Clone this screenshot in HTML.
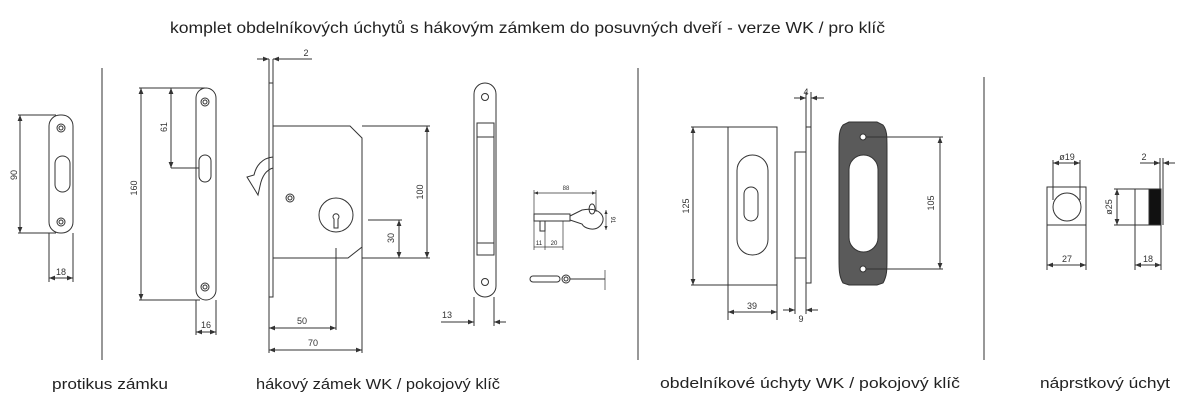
<!DOCTYPE html>
<html><head><meta charset="utf-8"><style>
html,body{margin:0;padding:0;background:#fff;}
svg{display:block}
text{font-family:"Liberation Sans",sans-serif;fill:#222}
.d{font-size:9px;fill:#333}
</style></head><body>
<svg width="1200" height="418" viewBox="0 0 1200 418" xmlns="http://www.w3.org/2000/svg">
<defs>
<marker id="a" viewBox="0 0 10 10" refX="10" refY="5" markerWidth="6" markerHeight="6" orient="auto-start-reverse"><path d="M0,1 L10,5 L0,9 z" fill="#333"/></marker>
</defs>
<text x="170" y="33" font-size="16" textLength="715" lengthAdjust="spacingAndGlyphs">komplet obdelníkových úchytů s hákovým zámkem do posuvných dveří - verze WK / pro klíč</text>

<g stroke="#777" stroke-width="1.5">
<line x1="102" y1="68" x2="102" y2="360"/>
<line x1="638" y1="68" x2="638" y2="360"/>
<line x1="984" y1="77" x2="984" y2="360"/>
</g>

<g fill="none" stroke="#333" stroke-width="1">
<!-- strike plate -->
<rect x="49" y="115" width="24" height="118" rx="11"/>
<circle cx="61" cy="128" r="4"/><circle cx="61" cy="128" r="2"/>
<circle cx="61" cy="222" r="4"/><circle cx="61" cy="222" r="2"/>
<rect x="55" y="156" width="15" height="36" rx="7.5"/>
<line x1="18" y1="115" x2="56" y2="115"/><line x1="18" y1="233" x2="56" y2="233"/>
<line x1="20" y1="115" x2="20" y2="233" marker-start="url(#a)" marker-end="url(#a)"/>
<line x1="49" y1="233" x2="49" y2="282"/><line x1="73" y1="233" x2="73" y2="282"/>
<line x1="49" y1="278" x2="73" y2="278" marker-start="url(#a)" marker-end="url(#a)"/>

<!-- faceplate -->
<rect x="196" y="88" width="20" height="212" rx="10"/>
<circle cx="205" cy="102" r="4"/><circle cx="205" cy="102" r="2"/>
<circle cx="205" cy="287" r="4"/><circle cx="205" cy="287" r="2"/>
<rect x="199" y="155" width="12" height="27" rx="6"/>
<line x1="139" y1="88" x2="205" y2="88"/><line x1="139" y1="300" x2="200" y2="300"/>
<line x1="141" y1="88" x2="141" y2="300" marker-start="url(#a)" marker-end="url(#a)"/>
<line x1="171" y1="88" x2="171" y2="168" marker-start="url(#a)" marker-end="url(#a)"/>
<line x1="171" y1="168" x2="199" y2="168"/>
<line x1="196" y1="300" x2="196" y2="335"/><line x1="216" y1="300" x2="216" y2="335"/>
<line x1="196" y1="332" x2="216" y2="332" marker-start="url(#a)" marker-end="url(#a)"/>

<!-- lock -->
<rect x="269" y="83" width="4" height="214"/>
<line x1="269" y1="59" x2="269" y2="83"/><line x1="273" y1="59" x2="273" y2="83"/>
<line x1="257" y1="59" x2="269" y2="59" marker-end="url(#a)"/>
<line x1="312" y1="59" x2="273" y2="59" marker-end="url(#a)"/>
<path d="M273,126 L350,126 L362,138 L362,247 L348,258 L273,258"/>
<path d="M273,157 C262,158 256,166 254,175 L247,177 L258,195 L260,186 C262,176 266,170 273,168"/>
<circle cx="290" cy="198" r="4"/><circle cx="290" cy="198" r="2"/>
<circle cx="336" cy="215" r="17"/>
<path d="M334,219 a3,3 0 1,1 4,0 L338,228 L334,228 z"/>
<line x1="362" y1="126" x2="430" y2="126"/><line x1="362" y1="258" x2="430" y2="258"/>
<line x1="427" y1="126" x2="427" y2="258" marker-start="url(#a)" marker-end="url(#a)"/>
<line x1="368" y1="220" x2="402" y2="220"/>
<line x1="399" y1="220" x2="399" y2="258" marker-start="url(#a)" marker-end="url(#a)"/>
<line x1="336" y1="248" x2="336" y2="330"/>
<line x1="269" y1="297" x2="269" y2="353"/><line x1="362" y1="247" x2="362" y2="353"/>
<line x1="269" y1="328" x2="336" y2="328" marker-start="url(#a)" marker-end="url(#a)"/>
<line x1="269" y1="350" x2="362" y2="350" marker-start="url(#a)" marker-end="url(#a)"/>

<!-- striking faceplate side -->
<rect x="474" y="83" width="22" height="214" rx="11"/>
<circle cx="485" cy="97" r="3.5"/><circle cx="485" cy="282" r="3.5"/>
<rect x="477" y="123" width="17" height="132"/>
<line x1="477" y1="137" x2="494" y2="137"/><line x1="477" y1="243" x2="494" y2="243"/>
<line x1="474" y1="297" x2="474" y2="326"/><line x1="494" y1="297" x2="494" y2="326"/>
<line x1="441" y1="322" x2="474" y2="322" marker-end="url(#a)"/>
<line x1="506" y1="322" x2="494" y2="322" marker-end="url(#a)"/>

<!-- key -->
<line x1="534" y1="190" x2="534" y2="250" stroke-width=".7"/>
<line x1="596" y1="190" x2="596" y2="212" stroke-width=".7"/>
<line x1="534" y1="193" x2="596" y2="193" stroke-width=".7" marker-start="url(#a)" marker-end="url(#a)"/>
<rect x="534" y="214" width="36" height="7"/>
<rect x="540" y="221" width="5" height="10"/>
<path d="M570,216 L582,210 C600,206 608,218 600,226 C594,232 584,228 582,224 L570,220 z"/>
<path d="M592,214 a3,5 0 1,1 0.1,0"/>
<line x1="545" y1="221" x2="545" y2="250" stroke-width=".7"/><line x1="563" y1="221" x2="563" y2="250" stroke-width=".7"/>
<line x1="534" y1="247" x2="545" y2="247" stroke-width=".7"/><line x1="545" y1="247" x2="563" y2="247" stroke-width=".7"/>
<line x1="606" y1="210" x2="606" y2="230" stroke-width=".7" marker-start="url(#a)" marker-end="url(#a)"/>
<rect x="530" y="276" width="30" height="6" rx="3"/>
<circle cx="566" cy="279" r="4"/><circle cx="566" cy="279" r="2"/>
<line x1="570" y1="279" x2="605" y2="279"/>
<line x1="605" y1="270" x2="605" y2="290" stroke-width=".7"/>

<!-- rectangular handle -->
<rect x="728" y="127" width="49" height="158"/>
<rect x="737" y="155" width="31" height="100" rx="15.5"/>
<rect x="744" y="187" width="14" height="34" rx="7"/>
<line x1="691" y1="127" x2="728" y2="127"/><line x1="691" y1="285" x2="728" y2="285"/>
<line x1="693" y1="127" x2="693" y2="285" marker-start="url(#a)" marker-end="url(#a)"/>
<line x1="728" y1="285" x2="728" y2="320"/><line x1="777" y1="285" x2="777" y2="320"/>
<line x1="728" y1="312" x2="777" y2="312" marker-start="url(#a)" marker-end="url(#a)"/>
<rect x="806" y="127" width="5" height="156"/>
<rect x="795" y="152" width="11" height="106"/>
<line x1="806" y1="92" x2="806" y2="127"/><line x1="811" y1="92" x2="811" y2="127"/>
<line x1="794" y1="98" x2="806" y2="98" marker-end="url(#a)"/>
<line x1="824" y1="98" x2="811" y2="98" marker-end="url(#a)"/>
<line x1="795" y1="258" x2="795" y2="314"/><line x1="806" y1="283" x2="806" y2="314"/>
<line x1="783" y1="310" x2="795" y2="310" marker-end="url(#a)"/>
<line x1="818" y1="310" x2="806" y2="310" marker-end="url(#a)"/>
<path d="M843,125 L849,122 L877,122 L883,125 C887,130 887,135 887,150 L887,258 C887,270 887,276 883,283 L877,285 L849,285 L843,283 C839,276 839,270 839,258 L839,150 C839,135 839,130 843,125 z" fill="#5a5a5a"/>
<rect x="849" y="155" width="29" height="97" rx="14.5" fill="#fff"/>
<circle cx="863" cy="137" r="3" fill="#fff"/><circle cx="863" cy="269" r="3" fill="#fff"/>
<line x1="866" y1="137" x2="943" y2="137"/><line x1="866" y1="269" x2="943" y2="269"/>
<line x1="940" y1="137" x2="940" y2="269" marker-start="url(#a)" marker-end="url(#a)"/>

<!-- thimble -->
<rect x="1047" y="187" width="39" height="38"/>
<circle cx="1067" cy="207" r="14"/>
<line x1="1053" y1="160" x2="1053" y2="200"/><line x1="1080" y1="160" x2="1080" y2="200"/>
<line x1="1053" y1="163" x2="1080" y2="163" marker-start="url(#a)" marker-end="url(#a)"/>
<line x1="1047" y1="225" x2="1047" y2="270"/><line x1="1086" y1="225" x2="1086" y2="270"/>
<line x1="1047" y1="265" x2="1086" y2="265" marker-start="url(#a)" marker-end="url(#a)"/>
<rect x="1135" y="189" width="26" height="36"/>
<rect x="1149" y="189" width="12" height="36" fill="#111"/>
<line x1="1160" y1="158" x2="1160" y2="189"/><line x1="1163" y1="158" x2="1163" y2="225"/>
<line x1="1140" y1="163" x2="1160" y2="163" marker-end="url(#a)"/>
<line x1="1175" y1="163" x2="1163" y2="163" marker-end="url(#a)"/>
<line x1="1114" y1="189" x2="1135" y2="189"/><line x1="1114" y1="225" x2="1135" y2="225"/>
<line x1="1117" y1="189" x2="1117" y2="225" marker-start="url(#a)" marker-end="url(#a)"/>
<line x1="1135" y1="225" x2="1135" y2="270"/><line x1="1161" y1="225" x2="1161" y2="270"/>
<line x1="1135" y1="265" x2="1161" y2="265" marker-start="url(#a)" marker-end="url(#a)"/>
</g>

<!-- dimension labels -->
<g class="d">
<text x="17" y="175" transform="rotate(-90 17 175)" text-anchor="middle" class="d">90</text>
<text x="61" y="275" text-anchor="middle" class="d">18</text>
<text x="137" y="188" transform="rotate(-90 137 188)" text-anchor="middle" class="d">160</text>
<text x="167" y="127" transform="rotate(-90 167 127)" text-anchor="middle" class="d">61</text>
<text x="206" y="328" text-anchor="middle" class="d">16</text>
<text x="306" y="56" text-anchor="middle" class="d">2</text>
<text x="423" y="192" transform="rotate(-90 423 192)" text-anchor="middle" class="d">100</text>
<text x="394" y="238" transform="rotate(-90 394 238)" text-anchor="middle" class="d">30</text>
<text x="302" y="324" text-anchor="middle" class="d">50</text>
<text x="313" y="346" text-anchor="middle" class="d">70</text>
<text x="447" y="318" text-anchor="middle" class="d">13</text>
<text x="566" y="190" text-anchor="middle" font-size="6" class="d" style="font-size:6px">88</text>
<text x="539" y="245" text-anchor="middle" style="font-size:6px">11</text>
<text x="554" y="245" text-anchor="middle" style="font-size:6px">20</text>
<text x="611" y="220" transform="rotate(90 611 220)" text-anchor="middle" style="font-size:6px">91</text>
<text x="689" y="206" transform="rotate(-90 689 206)" text-anchor="middle" class="d">125</text>
<text x="752" y="309" text-anchor="middle" class="d">39</text>
<text x="806" y="95" text-anchor="middle" class="d">4</text>
<text x="801" y="322" text-anchor="middle" class="d">9</text>
<text x="934" y="203" transform="rotate(-90 934 203)" text-anchor="middle" class="d">105</text>
<text x="1067" y="160" text-anchor="middle" class="d">ø19</text>
<text x="1067" y="262" text-anchor="middle" class="d">27</text>
<text x="1144" y="160" text-anchor="middle" class="d">2</text>
<text x="1112" y="207" transform="rotate(-90 1112 207)" text-anchor="middle" class="d">ø25</text>
<text x="1148" y="262" text-anchor="middle" class="d">18</text>
</g>

<g font-size="15">
<text x="52" y="389" textLength="116" lengthAdjust="spacingAndGlyphs">protikus zámku</text>
<text x="256" y="389" textLength="244" lengthAdjust="spacingAndGlyphs">hákový zámek WK / pokojový klíč</text>
<text x="660" y="388" textLength="300" lengthAdjust="spacingAndGlyphs">obdelníkové úchyty WK / pokojový klíč</text>
<text x="1040" y="388" textLength="130" lengthAdjust="spacingAndGlyphs">náprstkový úchyt</text>
</g>
</svg>
</body></html>
